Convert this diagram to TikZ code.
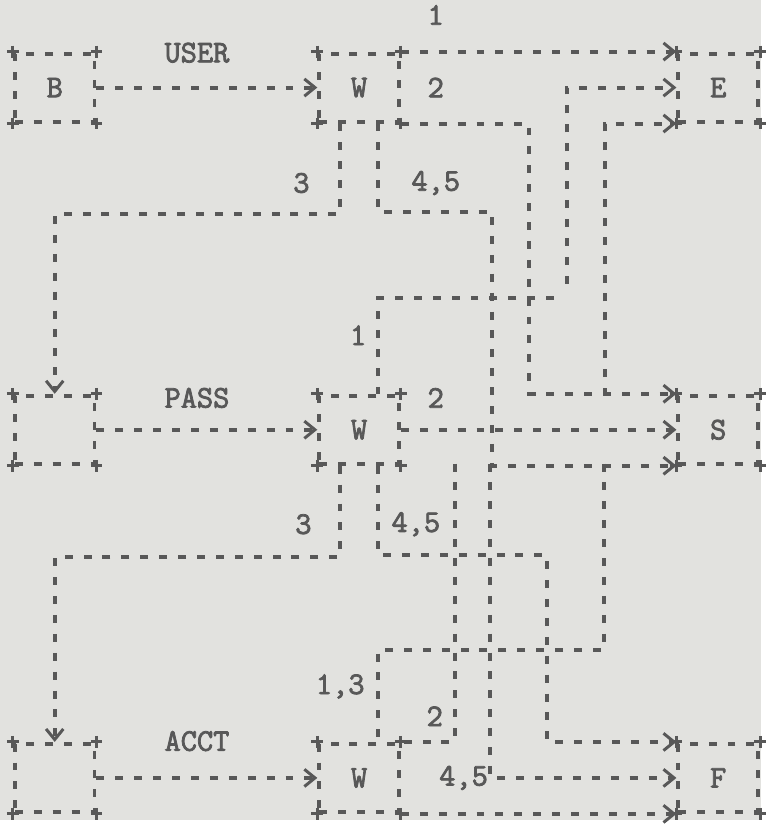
\documentclass[tikz,border=0pt]{standalone}
\usepackage{fontspec}
\newfontfamily\typer[FakeBold=2.5]{Latin Modern Mono}
\usepackage{tikz}
\usetikzlibrary{arrows.meta,calc}
\definecolor{paper}{RGB}{226,226,223}
\definecolor{ink}{RGB}{88,88,88}

\begin{document}
\begin{tikzpicture}[
    x=0.03cm, y=-0.03cm,
    font=\typer\fontsize{27}{30}\selectfont,
    text=ink,
    dashes/.style={line width=0.12cm, dash pattern=on 0.24cm off 0.33cm},
    box/.style={draw=ink, dashes, inner sep=0pt,
                minimum width=2.4cm, minimum height=2.05cm},
    wire/.style={draw=ink, dashes},
    arr/.style={wire, -{Straight Barb[length=0.32cm, width=0.52cm, line width=0.09cm]}},
    lbl/.style={inner sep=1pt}]
    \fill[paper] (0,0) rectangle (765,824);
    % states
    \node[box] (b1) at (55,88) {B};
    \node[box] (w1) at (361,88) {W};
    \node[box] (e) at (722,88) {E};
    \node[box] (b2) at (55,432) {};
    \node[box] (w2) at (361,432) {W};
    \node[box] (s) at (722,432) {S};
    \node[box] (b3) at (55,782) {};
    \node[box] (w3) at (361,782) {W};
    \node[box] (f) at (722,782) {F};
    % corner marks of the state boxes
    \foreach \n in {b1,w1,e,b2,w2,s,b3,w3,f}
      \foreach \c in {north west,north east,south west,south east}
        \draw[ink, line width=0.09cm] ($(\n.\c)+(-6,0)$) -- ++(12,0)
              ($(\n.\c)+(0,-6)$) -- ++(0,12);
    % commands
    \node[lbl] (user) at (198,53) {USER};
    \node[lbl] (pass) at (198,400) {PASS};
    \node[lbl] (acct) at (198,745) {ACCT};
    \draw[arr] (b1) -- (w1);
    \draw[arr] (b2) -- (w2);
    \draw[arr] (b3) -- (w3);
    % replies after USER
    \draw[arr] (w1.north east) -- (e.north west);
    \draw[arr] ($(w1.south)+(-19,0)$) -- ++(0,91) -| (b2.north);
    \draw[arr] ($(w1.south)+(19,0)$) |- (495,213) |- (s.south west);
    \draw[arr] (w1.south east) -| (532,300) |- (s.north west);
    \draw[arr] (570,285) |- (e.west);
    \draw[arr] (608,398) |- (e.south west);
    \draw[wire] (557,300) -| ($(w2.north)+(19,0)$);
    \node[lbl] (u1) at (438,15) {1};
    \node[lbl] (u2) at (438,88) {2};
    \node[lbl] (u3) at (303,184) {3};
    \node[lbl] (u45) at (438,184) {4,5};
    \node[lbl] (u1b) at (360,337) {1};
    % replies after PASS
    \draw[arr] (w2) -- (s);
    \draw[arr] ($(w2.south)+(-19,0)$) -- ++(0,92) -| (b3.north);
    \draw[arr] ($(w2.south)+(19,0)$) |- (550,558) |- (f.north west);
    \draw[wire] (457,466) |- (w3.north east);
    \draw[arr] (493,466) |- (f.west);
    \draw[wire] (607,466) -- (607,653) -| ($(w3.north)+(19,0)$);
    \node[lbl] (p2) at (438,400) {2};
    \node[lbl] (p3) at (305,527) {3};
    \node[lbl] (p45) at (418,527) {4,5};
    % replies after ACCT
    \draw[arr] (w3.south east) -- (f.south west);
    \node[lbl] (a13) at (342,690) {1,3};
    \node[lbl] (a2) at (437,720) {2};
    \node[lbl] (a45) at (466,782) {4,5};
\end{tikzpicture}
\end{document}
